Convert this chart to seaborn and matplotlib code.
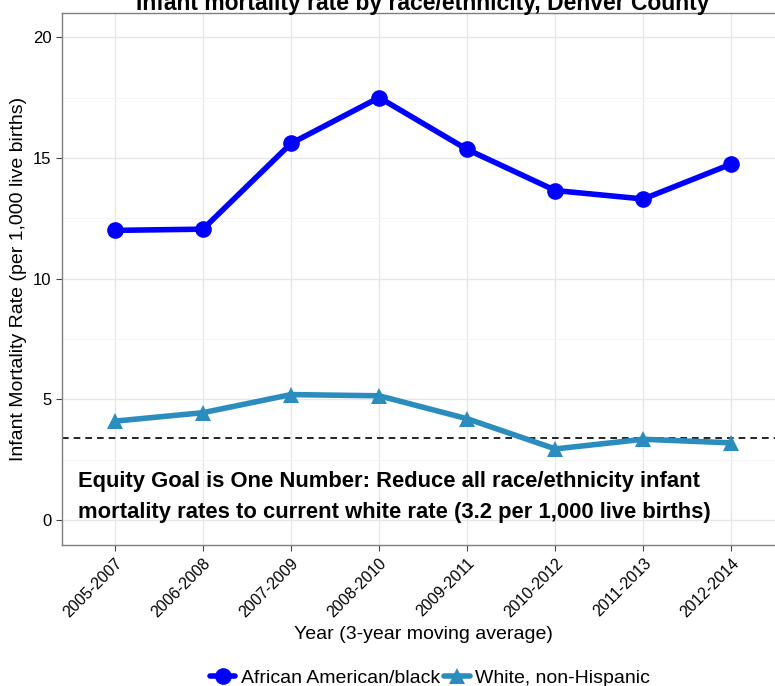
import pandas as pd
import seaborn as sns
import matplotlib.pyplot as plt
from matplotlib.ticker import MultipleLocator

years = ['2005-2007', '2006-2008', '2007-2009', '2008-2010',
         '2009-2011', '2010-2012', '2011-2013', '2012-2014']
black = [12.0, 12.05, 15.6, 17.5, 15.35, 13.65, 13.3, 14.75]
white = [4.1, 4.45, 5.2, 5.15, 4.2, 2.95, 3.35, 3.2]
groups = ['African American/black', 'White, non-Hispanic']
goal = 3.4

df = pd.DataFrame({
    'year': years * 2,
    'rate': black + white,
    'group': [groups[0]] * len(years) + [groups[1]] * len(years),
})
df['x'] = df['year'].map({y: i for i, y in enumerate(years)})

sns.set_style('whitegrid')
plt.rcParams['font.family'] = ['Liberation Sans', 'DejaVu Sans']
plt.rcParams['text.color'] = 'black'
plt.rcParams['axes.labelcolor'] = 'black'
plt.rcParams['xtick.color'] = 'black'
plt.rcParams['ytick.color'] = 'black'

fig = plt.figure(figsize=(7.75, 6.86), dpi=100)
ax = fig.add_axes([0.08, 0.2055, 0.932, 0.7755])

sns.lineplot(data=df, x='x', y='rate', hue='group', style='group',
             palette=['#0000ff', '#2b8cbe'], markers=['o', '^'], dashes=False,
             linewidth=4, markersize=12, markeredgewidth=0, ax=ax)

ax.axhline(goal, color='black', linestyle='--', linewidth=1.2, dashes=(4, 3), zorder=1)
ax.text(-0.42, 0.96, 'Equity Goal is One Number: Reduce all race/ethnicity infant\n'
        'mortality rates to current white rate (3.2 per 1,000 live births)',
        fontsize=15.8, fontweight='bold', ha='left', va='center', linespacing=1.62)

ax.set_xlim(-0.6, 7.6)
ax.set_ylim(-1.03, 21.0)
ax.set_xticks(range(len(years)))
ax.set_xticklabels(years, rotation=45, ha='right', rotation_mode='anchor', fontsize=11.5)
ax.yaxis.set_major_locator(MultipleLocator(5))
ax.yaxis.set_minor_locator(MultipleLocator(2.5))
ax.tick_params(axis='y', labelsize=12)
ax.grid(which='major', color='#e6e6e6', linewidth=0.9)
ax.grid(which='minor', axis='y', color='#f3f3f3', linewidth=0.6)
ax.tick_params(which='major', length=4, color='#444444', direction='out', bottom=True, left=True)
for s in ax.spines.values():
    s.set_color('#7f7f7f')
    s.set_linewidth(1.0)

ax.set_xlabel('Year (3-year moving average)', fontsize=14)
ax.set_ylabel('Infant Mortality Rate (per 1,000 live births)', fontsize=14)

fig.text(0.545, 0.995, 'Infant mortality rate by race/ethnicity, Denver County',
         fontsize=16.5, fontweight='bold', ha='center', va='center')

handles, labels = ax.get_legend_handles_labels()
ax.legend_.remove()
fig.legend(handles, labels, loc='center', bbox_to_anchor=(0.555, 0.012), ncol=2,
           frameon=False, fontsize=14, handlelength=1.3, columnspacing=0.2,
           handletextpad=0.3, markerscale=1.0)

fig.savefig('out.png', dpi=100)
